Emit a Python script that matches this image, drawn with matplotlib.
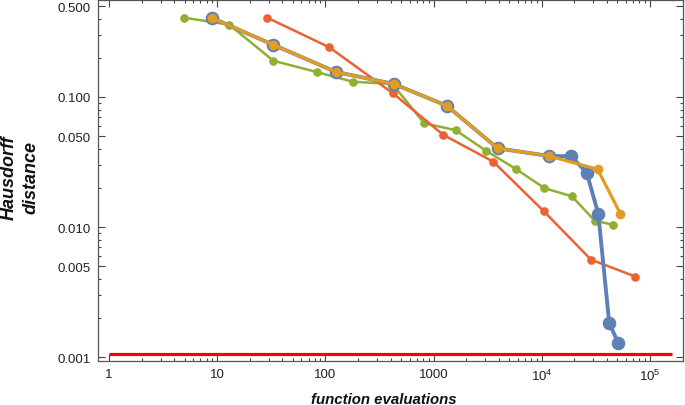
import matplotlib
matplotlib.use("Agg")
import matplotlib.pyplot as plt
from matplotlib.ticker import FixedLocator, NullFormatter

plt.rcParams['font.family'] = ['Liberation Sans', 'DejaVu Sans']
plt.rcParams['mathtext.fontset'] = 'custom'
plt.rcParams['mathtext.rm'] = 'Liberation Sans'
plt.rcParams['mathtext.it'] = 'Liberation Sans:italic'
plt.rcParams['mathtext.bf'] = 'Liberation Sans:bold'

# data
blue_x = [9, 33, 124.5, 428, 1322, 3910, 11580, 18600, 26000, 33300, 42000, 50900]
blue_y = [0.404, 0.252, 0.156, 0.126, 0.0857, 0.0403, 0.0352, 0.0350, 0.0262, 0.0126, 0.00183, 0.00128]
orange_x = [9, 33, 124.5, 428, 1322, 3910, 11580, 32800, 53400]
orange_y = [0.404, 0.252, 0.156, 0.126, 0.0857, 0.0403, 0.0352, 0.0278, 0.0126]
green_x = [4.97, 12.9, 33.0, 83.1, 178.8, 415, 820, 1600, 3050, 5740, 10590, 19000, 30800, 45500]
green_y = [0.407, 0.360, 0.190, 0.1556, 0.131, 0.126, 0.0628, 0.0555, 0.0386, 0.0280, 0.0199, 0.0172, 0.0112, 0.0104]
red_x = [29.0, 108.6, 419, 1230, 3560, 10420, 28500, 73100]
red_y = [0.407, 0.241, 0.107, 0.0511, 0.0318, 0.01324, 0.00561, 0.00416]
ref_x = [1, 160000]
ref_y = [0.00105, 0.00105]

x_ticks = [1, 10, 100, 1000, 1e4, 1e5]
x_labels = ['1', '10', '100', '1000', '$10^{4}$', '$10^{5}$']
y_ticks = [0.001, 0.005, 0.01, 0.05, 0.1, 0.5]
y_labels = ['0.001', '0.005', '0.010', '0.050', '0.100', '0.500']

BLUE = '#5E81B5'
ORANGE = '#E19C24'
GREEN = '#8FB032'
RED = '#EB6235'

fig = plt.figure(figsize=(6.85, 4.06), dpi=100)
ax = fig.add_axes([98/685, 1 - 361.7/406, (683-98)/685, (361.7-1)/406])
ax.set_xscale('log')
ax.set_yscale('log')
ax.set_xlim(0.79, 2.02e5)
ax.set_ylim(0.000937, 0.557)

ax.plot(ref_x, ref_y, color='#FF0000', lw=2.3, zorder=2, solid_capstyle='butt')
ax.plot(green_x, green_y, color=GREEN, lw=1.8, marker='o', ms=5.2, zorder=3)
ax.plot(red_x, red_y, color=RED, lw=1.8, marker='o', ms=5.2, zorder=4)
ax.plot(blue_x, blue_y, color=BLUE, lw=2.8, marker='o', ms=8.8, zorder=5)
ax.plot(orange_x, orange_y, color=ORANGE, lw=2.3, marker='o', ms=6.0, zorder=6)

minor_x = [m * 10**e for e in range(0, 6) for m in range(2, 10)]
ax.xaxis.set_major_locator(FixedLocator(x_ticks))
ax.xaxis.set_minor_locator(FixedLocator(minor_x))
ax.set_xticklabels(x_labels)
ax.xaxis.set_minor_formatter(NullFormatter())

minor_y = [m * 10.0**e for e in range(-3, 0) for m in range(1, 10)]
minor_y = [v for v in minor_y if v not in y_ticks]
ax.yaxis.set_major_locator(FixedLocator(y_ticks))
ax.yaxis.set_minor_locator(FixedLocator(minor_y))
ax.set_yticklabels(y_labels)
ax.yaxis.set_minor_formatter(NullFormatter())

ax.tick_params(which='both', direction='in', top=True, right=True, color='#444444',
               labelsize=9.5, labelcolor='#222222', width=0.8)
ax.tick_params(which='major', length=5, pad=5)
ax.tick_params(which='minor', length=2.5)
for s in ax.spines.values():
    s.set_color('#555555')
    s.set_linewidth(0.9)

fig.text(20/685, 1 - 178/406, 'Hausdorff\ndistance', rotation=90, ha='center', va='center',
         multialignment='center', fontsize=13, fontweight='bold', fontstyle='italic', color='#111111',
         linespacing=1.35)
fig.text(384/685, 1 - 400/406, 'function evaluations', ha='center', va='center',
         fontsize=10.8, fontweight='bold', fontstyle='italic', color='#111111')

fig.savefig('out.png', dpi=100)
